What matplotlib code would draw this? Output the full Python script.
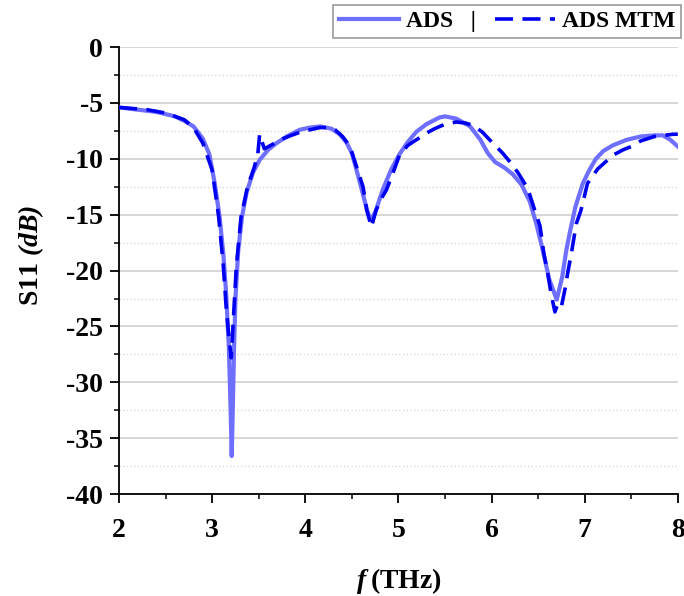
import matplotlib
matplotlib.use('Agg')
import matplotlib.pyplot as plt
from matplotlib.ticker import MultipleLocator

# ADS (solid)
ads_f = [2.0, 2.2, 2.4, 2.6, 2.7, 2.8, 2.9, 2.97, 3.03, 3.08, 3.12, 3.15, 3.18, 3.20,
         3.21, 3.22, 3.235, 3.25, 3.28, 3.32, 3.37, 3.44, 3.51, 3.6, 3.69, 3.8, 3.94,
         4.05, 4.16, 4.28, 4.37, 4.44, 4.5, 4.56, 4.62, 4.66, 4.70, 4.75, 4.83, 4.92,
         5.01, 5.1, 5.19, 5.3, 5.44, 5.5, 5.62, 5.77, 5.88, 5.96, 6.04, 6.14, 6.23,
         6.32, 6.41, 6.48, 6.55, 6.62, 6.70, 6.76, 6.80, 6.84, 6.90, 6.98, 7.05, 7.12,
         7.2, 7.30, 7.45, 7.6, 7.75, 7.84, 7.92, 8.0]
ads_s11 = [-5.4, -5.6, -5.8, -6.2, -6.6, -7.1, -8.2, -9.6, -12.3, -15.2, -18.5, -22.0,
           -27.0, -33.0, -36.6, -33.0, -27.0, -22.5, -18.2, -15.2, -13.0, -11.2, -10.1,
           -9.2, -8.6, -8.0, -7.4, -7.2, -7.1, -7.3, -7.8, -8.5, -9.5, -11.3, -13.2,
           -14.5, -15.5, -14.8, -12.8, -11.0, -9.6, -8.5, -7.6, -6.9, -6.3, -6.2, -6.4,
           -7.1, -8.3, -9.5, -10.3, -10.8, -11.4, -12.3, -13.8, -15.8, -18.2, -20.8,
           -22.6, -20.5, -18.3, -16.6, -14.3, -12.2, -11.0, -10.0, -9.3, -8.8, -8.3,
           -8.0, -7.9, -7.9, -8.3, -8.9]

# ADS MTM (dashed)
mtm_f = [2.0, 2.3, 2.5, 2.7, 2.8, 2.9, 3.0, 3.07, 3.12, 3.15, 3.18, 3.205, 3.23, 3.26,
         3.31, 3.38, 3.45, 3.49, 3.51, 3.56, 3.65, 3.73, 3.85, 3.95, 4.05, 4.16, 4.25,
         4.32, 4.40, 4.48, 4.55, 4.62, 4.66, 4.71, 4.76, 4.82, 4.87, 4.94, 5.01, 5.1,
         5.21, 5.3, 5.39, 5.5, 5.62, 5.72, 5.80, 5.9, 5.98, 6.05, 6.12, 6.2, 6.28,
         6.34, 6.39, 6.46, 6.52, 6.56, 6.60, 6.64, 6.68, 6.715, 6.75, 6.79, 6.82, 6.86,
         6.91, 6.96, 7.03, 7.14, 7.22, 7.32, 7.41, 7.50, 7.6, 7.75, 7.85, 7.95, 8.0]
mtm_s11 = [-5.4, -5.6, -5.9, -6.5, -7.2, -8.6, -11.0, -15.2, -19.6, -23.2, -26.0, -27.8,
           -24.0, -19.6, -15.2, -12.5, -10.8, -9.6, -7.8, -9.1, -8.7, -8.3, -7.9, -7.6,
           -7.4, -7.2, -7.2, -7.4, -8.0, -8.9, -10.7, -12.5, -14.6, -16.1, -14.6, -13.5,
           -12.8, -11.3, -9.7, -8.8, -8.2, -7.7, -7.3, -6.9, -6.7, -6.8, -7.0, -7.6,
           -8.3, -8.9, -9.5, -10.3, -11.2, -12.0, -12.7, -14.5, -16.0, -18.4, -20.1,
           -22.1, -23.7, -22.9, -23.2, -21.6, -20.1, -18.3, -15.8, -14.6, -12.2, -10.9,
           -10.3, -9.6, -9.2, -8.9, -8.4, -8.0, -7.9, -7.8, -7.8]

plt.rcParams['font.family'] = 'Liberation Serif'
plt.rcParams['font.weight'] = 'bold'
plt.rcParams['axes.unicode_minus'] = False
plt.rcParams['mathtext.fontset'] = 'custom'
plt.rcParams['mathtext.bfit'] = 'Liberation Serif:italic:bold'
plt.rcParams['mathtext.bf'] = 'Liberation Serif:bold'
plt.rcParams['mathtext.rm'] = 'Liberation Serif:bold'

fig = plt.figure(figsize=(6.84, 5.96), dpi=100)
ax = fig.add_axes([0.174, 0.171, 0.817, 0.750])

ax.plot(ads_f, ads_s11, color='#6e6eff', lw=3.0, label='ADS   |', zorder=3)
ax.plot(mtm_f, mtm_s11, color='#0000f0', lw=2.6, linestyle=(0, (5, 2.6)),
        label='ADS MTM', zorder=4)

ax.set_xlim(2, 8)
ax.set_ylim(-40, 0)
ax.xaxis.set_major_locator(MultipleLocator(1))
ax.xaxis.set_minor_locator(MultipleLocator(0.5))
ax.yaxis.set_major_locator(MultipleLocator(5))
ax.yaxis.set_minor_locator(MultipleLocator(2.5))

ax.grid(True, which='major', axis='y', color='#d0d0d0', lw=1.2)
ax.grid(True, which='minor', axis='y', color='#d8d8d8', lw=1.0, linestyle=':')
ax.set_axisbelow(True)

for s in ['top', 'right']:
    ax.spines[s].set_visible(False)
ax.spines['left'].set_linewidth(1.3)
ax.spines['bottom'].set_linewidth(1.3)

ax.tick_params(which='major', direction='out', length=6.5, width=1.3, labelsize=20)
ax.tick_params(which='minor', direction='out', length=3.5, width=1.1)
ax.tick_params(axis='x', which='major', pad=11)
ax.tick_params(axis='y', which='major', pad=5)
for lab in ax.get_xticklabels() + ax.get_yticklabels():
    lab.set_fontweight('bold')

ax.set_xlabel(r'$\mathbfit{f}$$\,\mathbf{(THz)}$', fontsize=20)
ax.set_ylabel(r'$\mathbf{S11}$ $\mathbfit{(dB)}$', fontsize=20)
ax.xaxis.set_label_coords(0.5, -0.160)
ax.yaxis.set_label_coords(-0.130, 0.535)

leg = fig.legend(loc='upper right', bbox_to_anchor=(681 / 684, 1 - 5 / 596), ncol=2,
                 fontsize=17, frameon=True, fancybox=False, handlelength=2.55,
                 columnspacing=0.8, handletextpad=0.3, borderpad=0.25,
                 borderaxespad=0)
leg.get_frame().set_edgecolor('#808080')
leg.get_frame().set_linewidth(1.2)

fig.savefig('out.png', dpi=100)
